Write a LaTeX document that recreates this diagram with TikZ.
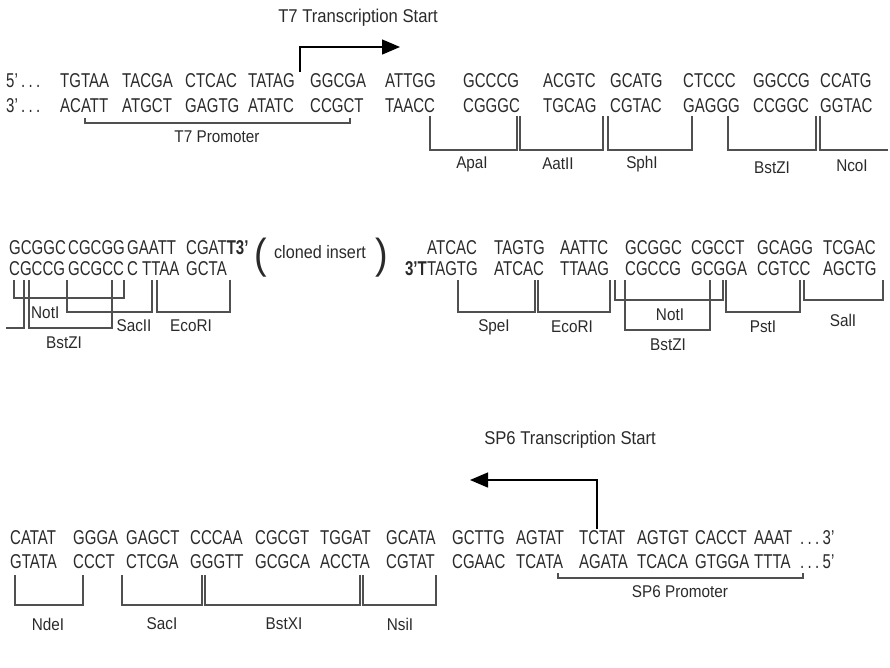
\documentclass[tikz,border=0pt]{standalone}
\usepackage{fontspec}
\setmainfont[FakeStretch=0.9]{Liberation Sans}
\newfontfamily\seqfont[FakeStretch=0.75]{Liberation Sans}
\usetikzlibrary{arrows.meta}
\definecolor{seqcol}{HTML}{2A2A2A}
\definecolor{linecol}{HTML}{505050}
\tikzset{
  seq/.style={font=\seqfont\fontsize{20}{20}\selectfont, text=seqcol, inner sep=0pt, anchor=base west},
  lab/.style={font=\fontsize{17}{17}\selectfont, text=seqcol, inner sep=0pt},
  tslab/.style={font=\fontsize{18.5}{19}\selectfont, text=seqcol, inner sep=0pt},
  brk/.style={draw=linecol, line width=1.3pt},
  tsarrow/.style={draw=black, line width=1.3pt, -{Triangle[length=18pt,width=15pt]}},
}
\begin{document}
\begin{tikzpicture}[x=1pt,y=-1pt]
\useasboundingbox (0,0) rectangle (890,667);

% ---------- block 1 ----------
\node[tslab] (t7start) at (358,18) {T7 Transcription Start};
\node[seq] (p5a) at (6,87) {5’\,.\,.\,.};
\node[seq] (p3a) at (6,112) {3’\,.\,.\,.};
\foreach \x/\a/\b [count=\i] in {60/TGTAA/ACATT,122/TACGA/ATGCT,185/CTCAC/GAGTG,248/TATAG/ATATC,310/GGCGA/CCGCT,385/ATTGG/TAACC,463/GCCCG/CGGGC,543/ACGTC/TGCAG,610/GCATG/CGTAC,683/CTCCC/GAGGG,753/GGCCG/CCGGC,820/CCATG/GGTAC}{
  \node[seq] (a\i) at (\x,87) {\a};
  \node[seq] (b\i) at (\x,112) {\b};
}
\coordinate (t7foot) at (300,72);
\coordinate (t7tip) at (400,47);
\draw[tsarrow] (t7foot) |- (t7tip);

\draw[brk] (85,118) -- (85,123) -- (350,123) -- (350,118);
\node[lab] (t7prom) at (217,137) {T7 Promoter};

\draw[brk] (430,116) -- (430,150) -- (517,150) -- (517,116);
\draw[brk] (520,116) -- (520,150) -- (603,150) -- (603,116);
\draw[brk] (608,116) -- (608,150) -- (692,150) -- (692,116);
\draw[brk] (728,116) -- (728,150) -- (816,150) -- (816,116);
\draw[brk] (820,116) -- (820,150) -- (888,150);
\node[lab] (apa) at (472,164) {ApaI};
\node[lab] (aat) at (558,164) {AatII};
\node[lab] (sph) at (642,164) {SphI};
\node[lab] (bstz1) at (772,168) {BstZI};
\node[lab] (nco) at (852,166) {NcoI};

% ---------- block 2 ----------
\node[seq] (c1) at (9,254) {GCGGC};
\node[seq] (d1) at (9,275) {CGCCG};
\node[seq] (c2) at (68,254) {CGCGG};
\node[seq] (d2) at (68,275) {GCGCC};
\node[seq] (c3) at (127,254) {GAATT};
\node[seq] (d3) at (127,275) {C};
\node[seq] (d3b) at (142,275) {TTAA};
\node[seq] (c4) at (186,254) {CGAT\textbf{T3’}};
\node[seq] (d4) at (186,275) {GCTA};
\node[seq, font=\fontsize{42}{42}\selectfont] (lpar) at (254,268) {(};
\node[lab, font=\fontsize{18}{18}\selectfont] (insert) at (320,252) {cloned insert};
\node[seq, font=\fontsize{42}{42}\selectfont] (rpar) at (375,268) {)};
\node[seq, anchor=base east] (d5pre) at (427,275) {\textbf{3’T}};
\foreach \x/\a/\b [count=\i] in {427/ATCAC/TAGTG,494/TAGTG/ATCAC,560/AATTC/TTAAG,625/GCGGC/CGCCG,691/CGCCT/GCGGA,757/GCAGG/CGTCC,823/TCGAC/AGCTG}{
  \node[seq] (e\i) at (\x,254) {\a};
  \node[seq] (f\i) at (\x,275) {\b};
}
% left brackets
\draw[brk] (6,328) -- (24,328) -- (24,280);
\draw[brk] (14,280) -- (14,298) -- (124,298) -- (124,280);
\draw[brk] (29,280) -- (29,328) -- (112,328) -- (112,280);
\draw[brk] (67,280) -- (67,312) -- (152,312) -- (152,280);
\draw[brk] (157,280) -- (157,312) -- (230,312) -- (230,280);
\node[lab, anchor=west] (not1) at (31,313) {NotI};
\node[lab] (bstz2) at (64,343) {BstZI};
\node[lab] (sac2) at (134,326) {SacII};
\node[lab] (eco1) at (191,326) {EcoRI};
% right brackets
\draw[brk] (458,280) -- (458,312) -- (535,312) -- (535,280);
\draw[brk] (538,280) -- (538,312) -- (610,312) -- (610,280);
\draw[brk] (615,280) -- (615,300) -- (723,300) -- (723,280);
\draw[brk] (625,280) -- (625,330) -- (710,330) -- (710,280);
\draw[brk] (726,280) -- (726,312) -- (800,312) -- (800,280);
\draw[brk] (804,280) -- (804,300) -- (883,300) -- (883,280);
\node[lab] (spe) at (494,327) {SpeI};
\node[lab] (eco2) at (572,327) {EcoRI};
\node[lab] (not2) at (670,315) {NotI};
\node[lab] (bstz3) at (668,345) {BstZI};
\node[lab] (pst) at (763,327) {PstI};
\node[lab] (sal) at (843,320) {SalI};

% ---------- block 3 ----------
\node[tslab] (sp6start) at (570,440) {SP6 Transcription Start};
\foreach \x/\a/\b [count=\i] in {10/CATAT/GTATA,73/GGGA/CCCT,126/GAGCT/CTCGA,190/CCCAA/GGGTT,255/CGCGT/GCGCA,320/TGGAT/ACCTA,386/GCATA/CGTAT,452/GCTTG/CGAAC,516/AGTAT/TCATA,579/TCTAT/AGATA,637/AGTGT/TCACA,695/CACCT/GTGGA,754/AAAT/TTTA}{
  \node[seq] (g\i) at (\x,544) {\a};
  \node[seq] (h\i) at (\x,568) {\b};
}
\node[seq] (g14) at (800,544) {.\,.\,.\,3’};
\node[seq] (h14) at (800,568) {.\,.\,.\,5’};
\coordinate (sp6foot) at (597,529);
\coordinate (sp6tip) at (470,480);
\draw[tsarrow] (sp6foot) |- (sp6tip);

\draw[brk] (558,573) -- (558,578) -- (803,578) -- (803,573);
\node[lab] (sp6prom) at (680,592) {SP6 Promoter};

\draw[brk] (15,575) -- (15,605) -- (83,605) -- (83,575);
\draw[brk] (122,575) -- (122,605) -- (202,605) -- (202,575);
\draw[brk] (205,575) -- (205,605) -- (360,605) -- (360,575);
\draw[brk] (363,575) -- (363,605) -- (436,605) -- (436,575);
\node[lab] (nde) at (48,624) {NdeI};
\node[lab] (sac1) at (162,624) {SacI};
\node[lab] (bstx) at (284,624) {BstXI};
\node[lab] (nsi) at (400,624) {NsiI};
\end{tikzpicture}
\end{document}
